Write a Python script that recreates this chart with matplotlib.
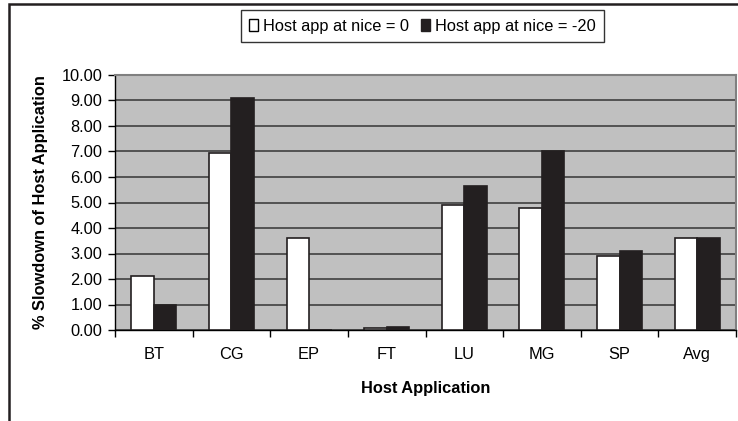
import matplotlib
matplotlib.use("Agg")
import matplotlib.pyplot as plt
import matplotlib.patches as mpatches
import numpy as np

plt.rcParams['font.family'] = ['Liberation Sans', 'DejaVu Sans']

categories = ["BT", "CG", "EP", "FT", "LU", "MG", "SP", "Avg"]
nice0 = [2.10, 6.95, 3.62, 0.07, 4.90, 4.78, 2.90, 3.62]
nice20 = [0.98, 9.08, 0.0, 0.12, 5.63, 7.02, 3.08, 3.62]
series_labels = ["Host app at nice = 0", "Host app at nice = -20"]
yticks = [0, 1, 2, 3, 4, 5, 6, 7, 8, 9, 10]

W, H = 738, 421
fig = plt.figure(figsize=(W / 100, H / 100), dpi=100)
fig.patch.set_facecolor("white")

left, right, top, bottom = 115, 736, 75, 330
ax = fig.add_axes([left / W, 1 - bottom / H, (right - left) / W, (bottom - top) / H])
ax.set_facecolor("#c0c0c0")

fs = 11.8
x = np.arange(len(categories))
bw = 0.29
ax.bar(x - bw / 2, nice0, bw, color="white", edgecolor="#231f20", linewidth=1.2, zorder=3)
ax.bar(x + bw / 2, nice20, bw, color="#231f20", edgecolor="#231f20", linewidth=1.2, zorder=3)

ax.set_xlim(-0.5, len(categories) - 0.5)
ax.set_ylim(0, 10)
ax.set_yticks(yticks)
ax.set_yticklabels([f"{v:.2f}" for v in yticks], fontsize=fs)
ax.yaxis.grid(True, color="#4a4a4a", linewidth=1.3, zorder=1)
ax.set_axisbelow(True)

ax.set_xticks(x)
ax.set_xticklabels(categories, fontsize=fs)
ax.tick_params(axis="x", length=0, pad=12)
ax.set_xticks(np.arange(len(categories) + 1) - 0.5, minor=True)
ax.tick_params(axis="x", which="minor", length=5, width=1, color="black", direction="out")
ax.tick_params(axis="y", length=5, width=1, color="black", direction="out", pad=4)

for s in ["top", "right"]:
    ax.spines[s].set_color("#808080")
    ax.spines[s].set_linewidth(1.5)
for s in ["left", "bottom"]:
    ax.spines[s].set_color("black")
    ax.spines[s].set_linewidth(1.0)

ax.set_xlabel("Host Application", fontsize=fs, fontweight="bold", labelpad=14)
ax.set_ylabel("% Slowdown of Host Application", fontsize=fs, fontweight="bold", labelpad=10)

handles = [mpatches.Patch(facecolor="white", edgecolor="black", linewidth=1.0),
           mpatches.Patch(facecolor="#231f20", edgecolor="#231f20", linewidth=1.0)]
leg = fig.legend(handles, series_labels, loc="center", bbox_to_anchor=(422.5 / W, 1 - 26 / H),
                 ncol=2, fontsize=fs, frameon=True, fancybox=False, edgecolor="black",
                 handlelength=0.55, handleheight=0.8, handletextpad=0.3, columnspacing=0.7,
                 borderpad=0.5, borderaxespad=0)
leg.get_frame().set_linewidth(1.0)

frame = mpatches.Rectangle((9 / W, -0.1), 1.2, 1.1 - 4.5 / H, transform=fig.transFigure,
                           fill=False, edgecolor="#231f20", linewidth=1.8, clip_on=False)
fig.patches.append(frame)

fig.savefig("out.png", dpi=100)
